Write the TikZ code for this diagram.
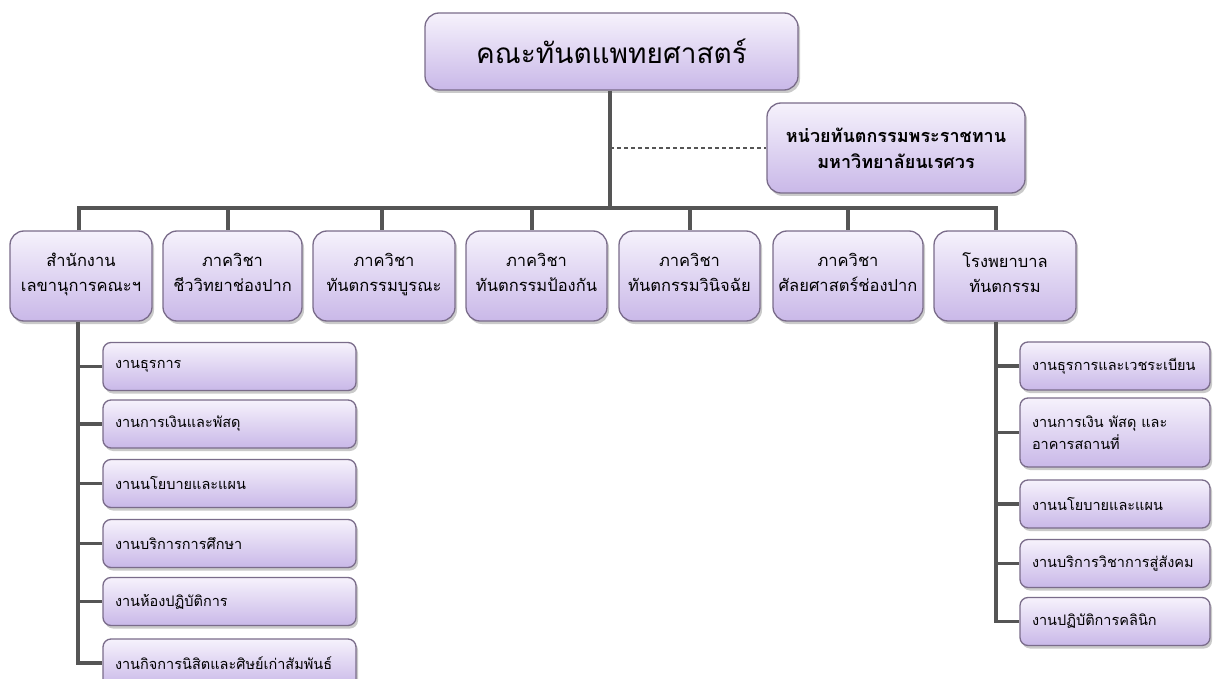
\documentclass[tikz,border=0pt]{standalone}
\usepackage{fontspec}
\setmainfont[Script=Thai]{Loma}
\usetikzlibrary{shadows}
\definecolor{lavTop}{RGB}{246,242,252}
\definecolor{lavBot}{RGB}{201,184,232}
\definecolor{boxEdge}{RGB}{122,108,138}
\definecolor{lineGray}{RGB}{85,85,85}
\tikzset{
  orgbox/.style={draw=boxEdge, line width=1.3pt, top color=lavTop, bottom color=lavBot,
    rounded corners=14pt, align=center, inner sep=2pt,
    drop shadow={shadow xshift=2pt, shadow yshift=-3pt, opacity=0.35, fill=black!60}},
  deptbox/.style={orgbox, minimum height=90, font=\fontsize{16.5}{25}\selectfont,
    execute at begin node=\strut, execute at end node=\strut},
  subbox/.style={orgbox, rounded corners=8pt, align=left, inner xsep=12pt,
    minimum height=48, font=\fontsize{14.5}{22}\selectfont},
  conn/.style={draw=lineGray, line width=3.5pt},
  dconn/.style={draw=lineGray, line width=1.6pt, dash pattern=on 4pt off 3pt},
}
\begin{document}
\begin{tikzpicture}[x=1pt,y=-1pt]
\useasboundingbox (0,0) rectangle (1213,679);
% top
\node[orgbox, minimum width=373, minimum height=77, font=\fontsize{28}{32}\selectfont] (top) at (611.5,51.5) {คณะทันตแพทยศาสตร์};
\node[orgbox, minimum width=258, minimum height=90, font=\bfseries\fontsize{18}{26}\selectfont] (unit) at (896,148) {หน่วยทันตกรรมพระราชทาน\\มหาวิทยาลัยนเรศวร};
% departments
\node[deptbox, minimum width=142] (d1) at (81,276) {สำนักงาน\\เลขานุการคณะฯ};
\node[deptbox, minimum width=139] (d2) at (232.5,276) {ภาควิชา\\ชีววิทยาช่องปาก};
\node[deptbox, minimum width=142] (d3) at (384,276) {ภาควิชา\\ทันตกรรมบูรณะ};
\node[deptbox, minimum width=141] (d4) at (536.5,276) {ภาควิชา\\ทันตกรรมป้องกัน};
\node[deptbox, minimum width=141] (d5) at (689.5,276) {ภาควิชา\\ทันตกรรมวินิจฉัย};
\node[deptbox, minimum width=150] (d6) at (848,276) {ภาควิชา\\ศัลยศาสตร์ช่องปาก};
\node[deptbox, minimum width=142] (d7) at (1005,276) {โรงพยาบาล\\ทันตกรรม};
% left sub items
\foreach \n/\y/\t in {l1/366.5/งานธุรการ, l2/424/งานการเงินและพัสดุ, l3/483.5/งานนโยบายและแผน, l4/543.5/งานบริการการศึกษา, l5/601.5/งานห้องปฏิบัติการ, l6/663/งานกิจการนิสิตและศิษย์เก่าสัมพันธ์}
  \node[subbox, minimum width=253, text width=229] (\n) at (229.5,\y) {\t};
% right sub items
\node[subbox, minimum width=190, text width=166] (r1) at (1115,366) {งานธุรการและเวชระเบียน};
\node[subbox, minimum width=190, text width=166, minimum height=69] (r2) at (1115,432.5) {งานการเงิน พัสดุ และ\\อาคารสถานที่};
\node[subbox, minimum width=190, text width=166] (r3) at (1115,504) {งานนโยบายและแผน};
\node[subbox, minimum width=190, text width=166] (r4) at (1115,563.5) {งานบริการวิชาการสู่สังคม};
\node[subbox, minimum width=190, text width=166] (r5) at (1115,621.5) {งานปฏิบัติการคลินิก};
% bus coordinates
\coordinate (b1) at (79,208);
\coordinate (b2) at (228,208);
\coordinate (b3) at (382,208);
\coordinate (b4) at (532,208);
\coordinate (bt) at (610,208);
\coordinate (b5) at (690,208);
\coordinate (b6) at (848,208);
\coordinate (b7) at (996,208);
\coordinate (lv) at (78,321);
\coordinate (rv) at (996,321);
% connectors
\draw[dconn] (bt |- unit.west) -- (unit.west);
\draw[conn] (b1 |- d1.north) -- (b1) -- (b7) -- (b7 |- d7.north);
\draw[conn] (top.south -| bt) -- (bt);
\foreach \b/\d in {b2/d2,b3/d3,b4/d4,b5/d5,b6/d6}
  \draw[conn] (\b) -- (\b |- \d.north);
\draw[conn] (lv |- d1.south) -- (lv |- l6.west) -- (l6.west);
\foreach \s in {l1,l2,l3,l4,l5}
  \draw[conn] (lv |- \s.west) -- (\s.west);
\draw[conn] (rv |- d7.south) -- (rv |- r5.west) -- (r5.west);
\foreach \s in {r1,r2,r3,r4}
  \draw[conn] (rv |- \s.west) -- (\s.west);
\end{tikzpicture}
\end{document}
